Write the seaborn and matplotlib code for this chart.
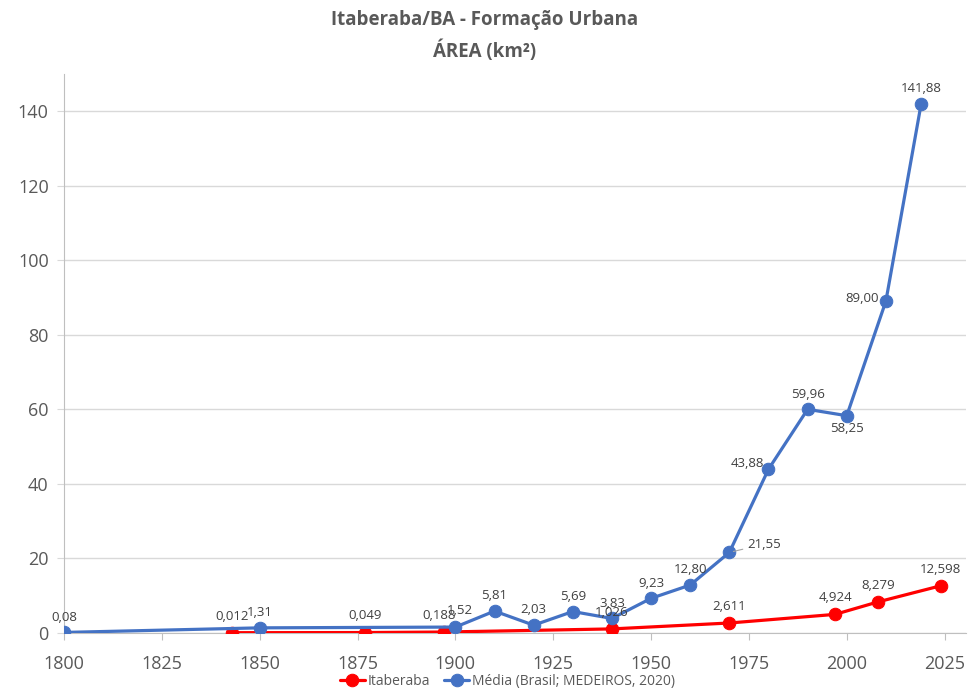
import numpy as np
import pandas as pd
import matplotlib.pyplot as plt
import seaborn as sns

# Itaberaba (red series)
ita_years = [1843, 1877, 1897, 1940, 1970, 1997, 2008, 2024]
ita_area = [0.012, 0.049, 0.188, 1.026, 2.611, 4.924, 8.279, 12.598]

# Média Brasil (blue series)
med_years = [1800, 1850, 1900, 1910, 1920, 1930, 1940, 1950, 1960, 1970,
             1980, 1990, 2000, 2010, 2019]
med_area = [0.08, 1.31, 1.52, 5.81, 2.03, 5.69, 3.83, 9.23, 12.80, 21.55,
            43.88, 59.96, 58.25, 89.00, 141.88]

x_ticks = [1800, 1825, 1850, 1875, 1900, 1925, 1950, 1975, 2000, 2025]
y_ticks = [0, 20, 40, 60, 80, 100, 120, 140]

RED = "#FF0000"
BLUE = "#4472C4"
GREY = "#595959"
LABEL = "#404040"


def fmt(v, nd):
    return f"{v:.{nd}f}".replace(".", ",")


def main():
    sns.set_style("white")
    plt.rcParams["font.family"] = ["Open Sans", "DejaVu Sans"]

    df_ita = pd.DataFrame({"Ano": ita_years, "Área": ita_area})
    df_med = pd.DataFrame({"Ano": med_years, "Área": med_area})

    fig = plt.figure(figsize=(9.7, 6.9), dpi=100)
    ax = fig.add_axes([0.066, 0.083, 0.93, 0.81])

    sns.lineplot(data=df_ita, x="Ano", y="Área", ax=ax, color=RED, marker="o",
                 markersize=9, markeredgecolor=RED, linewidth=2.3,
                 label="Itaberaba", zorder=3)
    sns.lineplot(data=df_med, x="Ano", y="Área", ax=ax, color=BLUE, marker="o",
                 markersize=9, markeredgecolor=BLUE, linewidth=2.3,
                 label="Média (Brasil; MEDEIROS, 2020)", zorder=4)

    ax.set_xlim(1800, 2030.5)
    ax.set_ylim(0, 150)
    ax.set_xticks(x_ticks)
    ax.set_yticks(y_ticks)
    ax.set_xlabel("")
    ax.set_ylabel("")
    ax.yaxis.grid(True, color="#D9D9D9", linewidth=1)
    ax.set_axisbelow(True)
    for side in ["top", "right"]:
        ax.spines[side].set_visible(False)
    ax.spines["left"].set_color("#BFBFBF")
    ax.spines["bottom"].set_color("#BFBFBF")
    ax.tick_params(axis="x", direction="out", length=5, color="#BFBFBF",
                   labelsize=13, labelcolor=GREY, pad=11, bottom=True)
    ax.tick_params(axis="y", direction="out", length=5, color="#D9D9D9",
                   labelsize=13, labelcolor=GREY, pad=6, left=True)

    # data labels (offsets in points)
    med_offsets = {
        1900: (3, 12, "center"), 1980: (-3, 4, "right"),
        2000: (0, -9, "center"), 2010: (-5, 2, "right"),
    }
    for yr, v in zip(med_years, med_area):
        if yr == 1970:
            ax.annotate(fmt(v, 2), (yr, v), xytext=(13, 6), textcoords="offset points",
                        ha="left", va="center", fontsize=9.5, color=LABEL, zorder=6,
                        arrowprops=dict(arrowstyle="-", color="#A6A6A6", lw=0.8,
                                        shrinkA=1, shrinkB=3))
            continue
        dx, dy, ha = med_offsets.get(yr, (0, 11, "center"))
        ax.annotate(fmt(v, 2), (yr, v), xytext=(dx, dy), textcoords="offset points",
                    ha=ha, va="center", fontsize=9.5, color=LABEL, zorder=6)
    for yr, v in zip(ita_years, ita_area):
        dx = -3 if yr == 1897 else 0
        ax.annotate(fmt(v, 3), (yr, v), xytext=(dx, 12), textcoords="offset points",
                    ha="center", va="center", fontsize=9.5, color=LABEL, zorder=6)

    fig.suptitle("Itaberaba/BA - Formação Urbana\nÁREA (km²)", y=0.985,
                 fontsize=13.5, fontweight="bold", color=GREY, linespacing=1.6)

    ax.legend_.remove()
    handles, labels = ax.get_legend_handles_labels()
    fig.legend(handles, labels, loc="center", bbox_to_anchor=(0.523, 0.013),
               ncol=2, frameon=False, fontsize=10, handlelength=1.8,
               handletextpad=0.2, columnspacing=1.0, labelcolor=GREY)

    fig.savefig("out.png", dpi=100)


if __name__ == "__main__":
    main()
